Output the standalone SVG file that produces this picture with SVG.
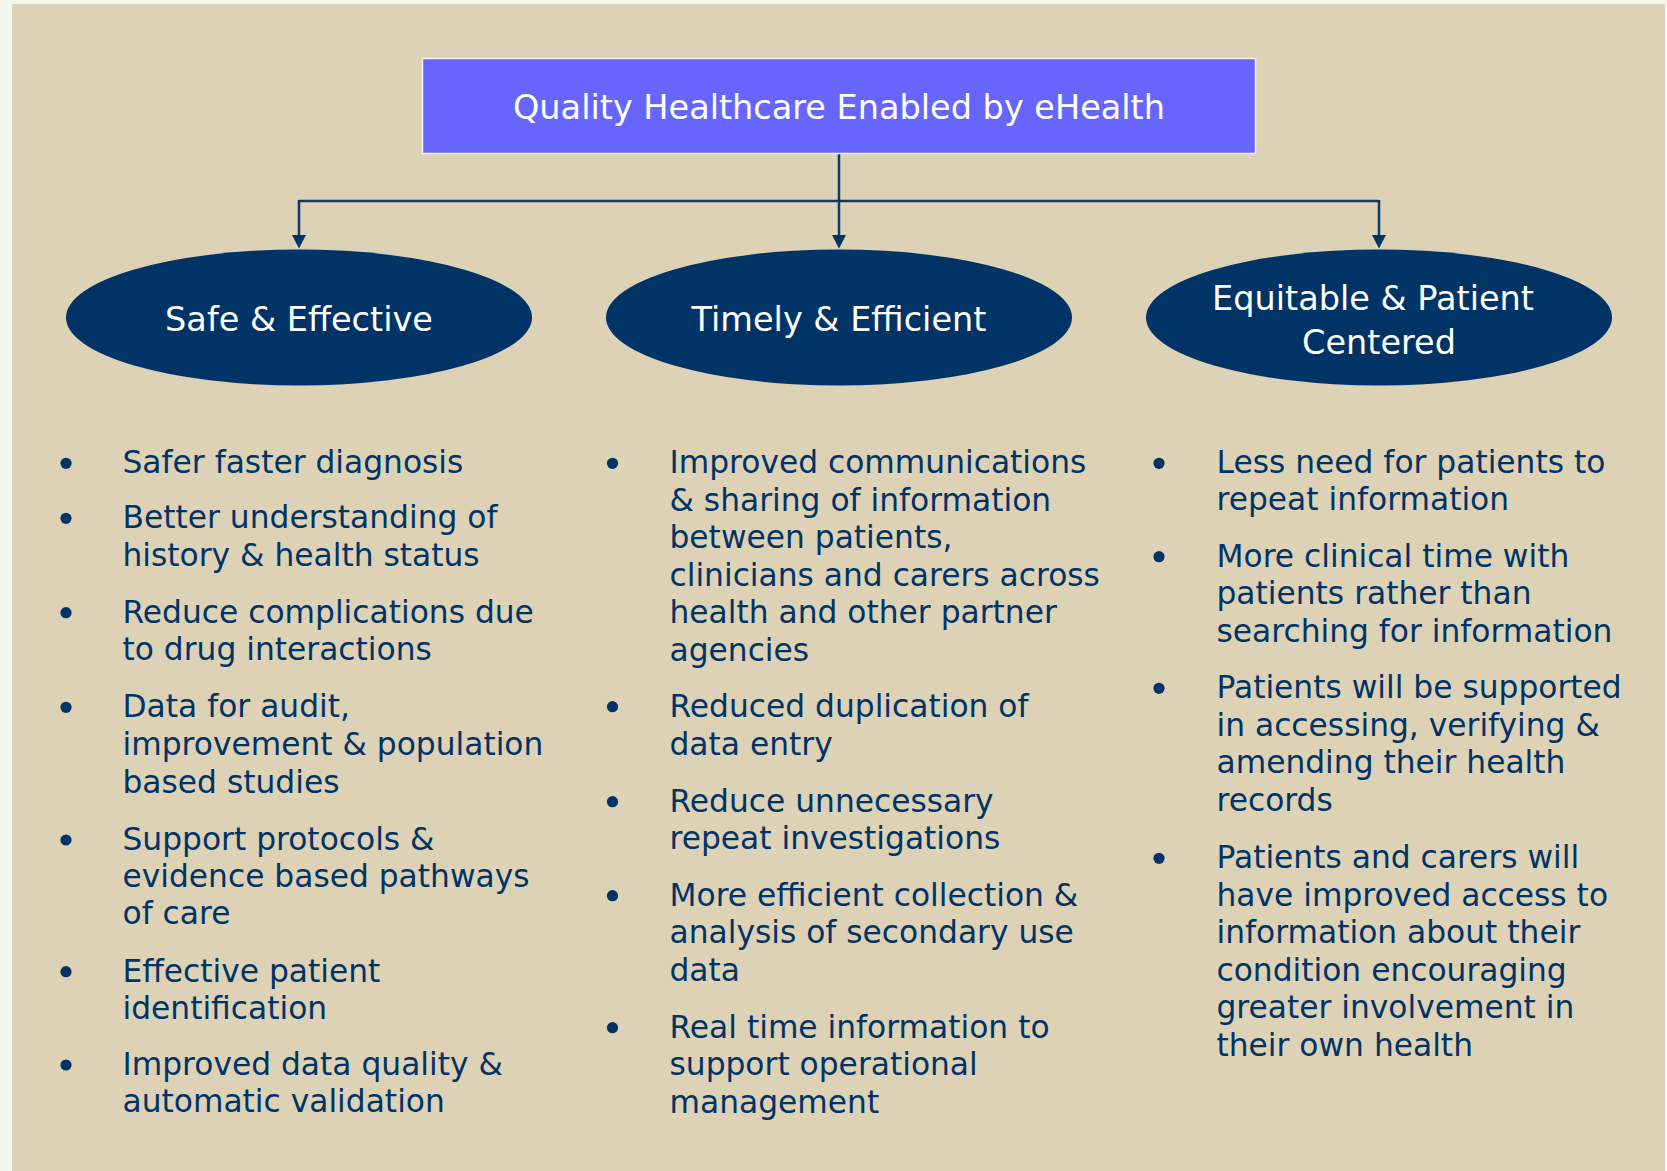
<svg xmlns="http://www.w3.org/2000/svg" width="1667" height="1171" viewBox="0 0 1667 1171">
<style>
.lbl{font-family:"DejaVu Sans",Verdana,sans-serif;font-size:33.5px;fill:#ffffff;text-anchor:middle}
.itm{font-family:"DejaVu Sans",Verdana,sans-serif;font-size:31.3px;fill:#003366}
.node{fill:#003366}
.conn{fill:none;stroke:#0f3a66;stroke-width:2.5}
.dot{fill:#003366}
</style>
<defs>
<marker id="arr" viewBox="0 0 14 13" refX="7" refY="13" markerWidth="14" markerHeight="13" markerUnits="userSpaceOnUse" orient="auto-start-reverse">
<path d="M0,0 L14,0 L7,13 Z" fill="#003366"/>
</marker>
</defs>
<rect x="0" y="0" width="1667" height="1171" fill="#f2f8ee"/>
<rect x="12" y="4" width="1653" height="1167" fill="#ddd2b6"/>

<g id="connectors">
<path class="conn" d="M839,154 L839,235"/>
<path class="conn" d="M299,201 L1379,201"/>
<path class="conn" d="M299,200 L299,235"/>
<path class="conn" d="M1379,200 L1379,235"/>
<path d="M292,235 L306,235 L299,248.5 Z" fill="#003366"/>
<path d="M832,235 L846,235 L839,248.5 Z" fill="#003366"/>
<path d="M1372,235 L1386,235 L1379,248.5 Z" fill="#003366"/>
</g>

<g id="title">
<rect x="422.5" y="58.5" width="833" height="95" fill="#6666ff" stroke="#f4f4f4" stroke-width="1.5"/>
<text class="lbl" x="839" y="119">Quality Healthcare Enabled by eHealth</text>
</g>

<g id="safe-effective">
<ellipse class="node" cx="299" cy="317.5" rx="233" ry="68"/>
<text class="lbl" x="299" y="331">Safe &amp; Effective</text>
</g>

<g id="timely-efficient">
<ellipse class="node" cx="839" cy="317.5" rx="233" ry="68"/>
<text class="lbl" x="839" y="331">Timely &amp; Efficient</text>
</g>

<g id="equitable-patient-centered">
<ellipse class="node" cx="1379" cy="317.5" rx="233" ry="68"/>
<text class="lbl" x="1373" y="309.5">Equitable &amp; Patient</text>
<text class="lbl" x="1379" y="354">Centered</text>
</g>

<g id="list-safe">
<circle class="dot" cx="66" cy="463.3" r="5.6"/>
<text class="itm" x="122.5" y="473.3">Safer faster diagnosis</text>
<circle class="dot" cx="66" cy="518.3" r="5.6"/>
<text class="itm" x="122.5" y="528.3">Better understanding of<tspan x="122.5" y="566">history &amp; health status</tspan></text>
<circle class="dot" cx="66" cy="612.7" r="5.6"/>
<text class="itm" x="122.5" y="622.7">Reduce complications due<tspan x="122.5" y="660">to drug interactions</tspan></text>
<circle class="dot" cx="66" cy="707.3" r="5.6"/>
<text class="itm" x="122.5" y="717.3">Data for audit,<tspan x="122.5" y="755">improvement &amp; population</tspan><tspan x="122.5" y="792.7">based studies</tspan></text>
<circle class="dot" cx="66" cy="840" r="5.6"/>
<text class="itm" x="122.5" y="850">Support protocols &amp;<tspan x="122.5" y="886.7">evidence based pathways</tspan><tspan x="122.5" y="924.3">of care</tspan></text>
<circle class="dot" cx="66" cy="971.7" r="5.6"/>
<text class="itm" x="122.5" y="981.7">Effective patient<tspan x="122.5" y="1018.7">identification</tspan></text>
<circle class="dot" cx="66" cy="1065" r="5.6"/>
<text class="itm" x="122.5" y="1075">Improved data quality &amp;<tspan x="122.5" y="1112.3">automatic validation</tspan></text>
</g>

<g id="list-timely">
<circle class="dot" cx="612.5" cy="463.3" r="5.6"/>
<text class="itm" x="669.5" y="473.3">Improved communications<tspan x="669.5" y="511">&amp; sharing of information</tspan><tspan x="669.5" y="548.4">between patients,</tspan><tspan x="669.5" y="585.8">clinicians and carers across</tspan><tspan x="669.5" y="623.2">health and other partner</tspan><tspan x="669.5" y="660.5">agencies</tspan></text>
<circle class="dot" cx="612.5" cy="706.7" r="5.6"/>
<text class="itm" x="669.5" y="716.7">Reduced duplication of<tspan x="669.5" y="754.7">data entry</tspan></text>
<circle class="dot" cx="612.5" cy="801.7" r="5.6"/>
<text class="itm" x="669.5" y="811.7">Reduce unnecessary<tspan x="669.5" y="849">repeat investigations</tspan></text>
<circle class="dot" cx="612.5" cy="895.7" r="5.6"/>
<text class="itm" x="669.5" y="905.7">More efficient collection &amp;<tspan x="669.5" y="943.3">analysis of secondary use</tspan><tspan x="669.5" y="980.7">data</tspan></text>
<circle class="dot" cx="612.5" cy="1027.7" r="5.6"/>
<text class="itm" x="669.5" y="1037.7">Real time information to<tspan x="669.5" y="1075.3">support operational</tspan><tspan x="669.5" y="1112.7">management</tspan></text>
</g>

<g id="list-equitable">
<circle class="dot" cx="1159" cy="463.3" r="5.6"/>
<text class="itm" x="1216.5" y="473.3">Less need for patients to<tspan x="1216.5" y="510.3">repeat information</tspan></text>
<circle class="dot" cx="1159" cy="556.7" r="5.6"/>
<text class="itm" x="1216.5" y="566.7">More clinical time with<tspan x="1216.5" y="604.3">patients rather than</tspan><tspan x="1216.5" y="641.7">searching for information</tspan></text>
<circle class="dot" cx="1159" cy="688.3" r="5.6"/>
<text class="itm" x="1216.5" y="698.3">Patients will be supported<tspan x="1216.5" y="735.7">in accessing, verifying &amp;</tspan><tspan x="1216.5" y="773.3">amending their health</tspan><tspan x="1216.5" y="810.7">records</tspan></text>
<circle class="dot" cx="1159" cy="858.3" r="5.6"/>
<text class="itm" x="1216.5" y="868.3">Patients and carers will<tspan x="1216.5" y="906">have improved access to</tspan><tspan x="1216.5" y="943.3">information about their</tspan><tspan x="1216.5" y="981">condition encouraging</tspan><tspan x="1216.5" y="1018.3">greater involvement in</tspan><tspan x="1216.5" y="1056">their own health</tspan></text>
</g>
</svg>
